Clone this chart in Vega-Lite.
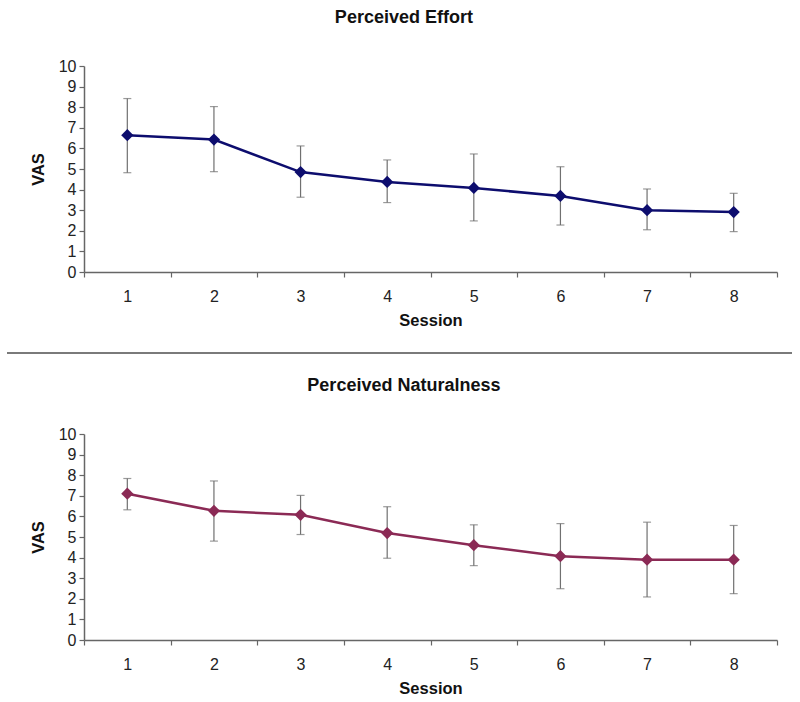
{
  "$schema": "https://vega.github.io/schema/vega-lite/v6.json",
  "background": "white",
  "padding": {"left": 6, "top": 9, "right": 5, "bottom": 5},
  "spacing": 22.5,
  "columns": 1,
  "align": "none",
  "datasets": {
    "effort": [
      {"session": 1, "mean": 6.64, "lo": 4.82, "hi": 8.42},
      {"session": 2, "mean": 6.43, "lo": 4.87, "hi": 8.03},
      {"session": 3, "mean": 4.85, "lo": 3.63, "hi": 6.12},
      {"session": 4, "mean": 4.37, "lo": 3.37, "hi": 5.44},
      {"session": 5, "mean": 4.08, "lo": 2.48, "hi": 5.73},
      {"session": 6, "mean": 3.69, "lo": 2.28, "hi": 5.11},
      {"session": 7, "mean": 3.0, "lo": 2.05, "hi": 4.03},
      {"session": 8, "mean": 2.91, "lo": 1.96, "hi": 3.82}
    ],
    "naturalness": [
      {"session": 1, "mean": 7.1, "lo": 6.32, "hi": 7.84},
      {"session": 2, "mean": 6.27, "lo": 4.8, "hi": 7.72},
      {"session": 3, "mean": 6.08, "lo": 5.12, "hi": 7.02},
      {"session": 4, "mean": 5.19, "lo": 3.97, "hi": 6.47},
      {"session": 5, "mean": 4.6, "lo": 3.61, "hi": 5.59},
      {"session": 6, "mean": 4.07, "lo": 2.49, "hi": 5.65},
      {"session": 7, "mean": 3.9, "lo": 2.09, "hi": 5.72},
      {"session": 8, "mean": 3.9, "lo": 2.25, "hi": 5.56}
    ],
    "sep": [{"a": 0, "b": 1}]
  },
  "concat": [
    {
      "width": 693,
      "height": 206,
      "title": {"text": "Perceived Effort"},
      "data": {"name": "effort"},
      "encoding": {
        "x": {"field": "session", "type": "ordinal", "title": "Session",
              "scale": {"paddingInner": 0, "paddingOuter": 0}},
        "y": {"field": "mean", "type": "quantitative", "title": "VAS",
              "scale": {"domain": [0, 10], "nice": false},
              "axis": {"values": [0,1,2,3,4,5,6,7,8,9,10]}}
      },
      "layer": [
        {"mark": {"type": "rule", "color": "#707070", "strokeWidth": 1.2},
         "encoding": {"y": {"field": "lo", "type": "quantitative"}, "y2": {"field": "hi"}}},
        {"mark": {"type": "tick", "color": "#707070", "size": 8, "thickness": 1.2, "orient": "horizontal"},
         "encoding": {"y": {"field": "lo", "type": "quantitative"}}},
        {"mark": {"type": "tick", "color": "#707070", "size": 8, "thickness": 1.2, "orient": "horizontal"},
         "encoding": {"y": {"field": "hi", "type": "quantitative"}}},
        {"mark": {"type": "line", "color": "#0d0d6e", "strokeWidth": 2.5}},
        {"mark": {"type": "point", "shape": "diamond", "filled": true, "size": 150, "opacity": 1, "color": "#0d0d6e"}}
      ]
    },
    {
      "width": 708,
      "height": 1,
      "data": {"name": "sep"},
      "mark": {"type": "rule", "color": "#7a7a7a", "strokeWidth": 2},
      "encoding": {
        "x": {"field": "a", "type": "quantitative", "scale": {"domain": [0, 1], "range": [-77, 708]}, "axis": null},
        "x2": {"field": "b"}
      }
    },
    {
      "width": 693,
      "height": 206,
      "title": {"text": "Perceived Naturalness"},
      "data": {"name": "naturalness"},
      "encoding": {
        "x": {"field": "session", "type": "ordinal", "title": "Session",
              "scale": {"paddingInner": 0, "paddingOuter": 0}},
        "y": {"field": "mean", "type": "quantitative", "title": "VAS",
              "scale": {"domain": [0, 10], "nice": false},
              "axis": {"values": [0,1,2,3,4,5,6,7,8,9,10]}}
      },
      "layer": [
        {"mark": {"type": "rule", "color": "#707070", "strokeWidth": 1.2},
         "encoding": {"y": {"field": "lo", "type": "quantitative"}, "y2": {"field": "hi"}}},
        {"mark": {"type": "tick", "color": "#707070", "size": 8, "thickness": 1.2, "orient": "horizontal"},
         "encoding": {"y": {"field": "lo", "type": "quantitative"}}},
        {"mark": {"type": "tick", "color": "#707070", "size": 8, "thickness": 1.2, "orient": "horizontal"},
         "encoding": {"y": {"field": "hi", "type": "quantitative"}}},
        {"mark": {"type": "line", "color": "#8b2a55", "strokeWidth": 2.5}},
        {"mark": {"type": "point", "shape": "diamond", "filled": true, "size": 150, "opacity": 1, "color": "#8b2a55"}}
      ]
    }
  ],
  "config": {
    "view": {"stroke": null},
    "font": "Liberation Sans",
    "title": {"fontSize": 18, "fontWeight": "bold", "font": "Liberation Sans", "color": "#111", "anchor": "middle", "frame": "bounds", "offset": 31},
    "axis": {
      "grid": false,
      "domainColor": "#666",
      "domainWidth": 1.5,
      "tickColor": "#666",
      "tickWidth": 1.2,
      "tickSize": 5,
      "labelFont": "Liberation Sans",
      "labelFontSize": 16,
      "labelColor": "#222",
      "titleFont": "Liberation Sans",
      "titleFontSize": 16.5,
      "titleFontWeight": "bold",
      "titleColor": "#111"
    },
    "axisX": {"labelAngle": 0, "tickBand": "extent", "labelPadding": 11, "titlePadding": 8},
    "axisY": {"labelPadding": 3, "titlePadding": 12}
  }
}
